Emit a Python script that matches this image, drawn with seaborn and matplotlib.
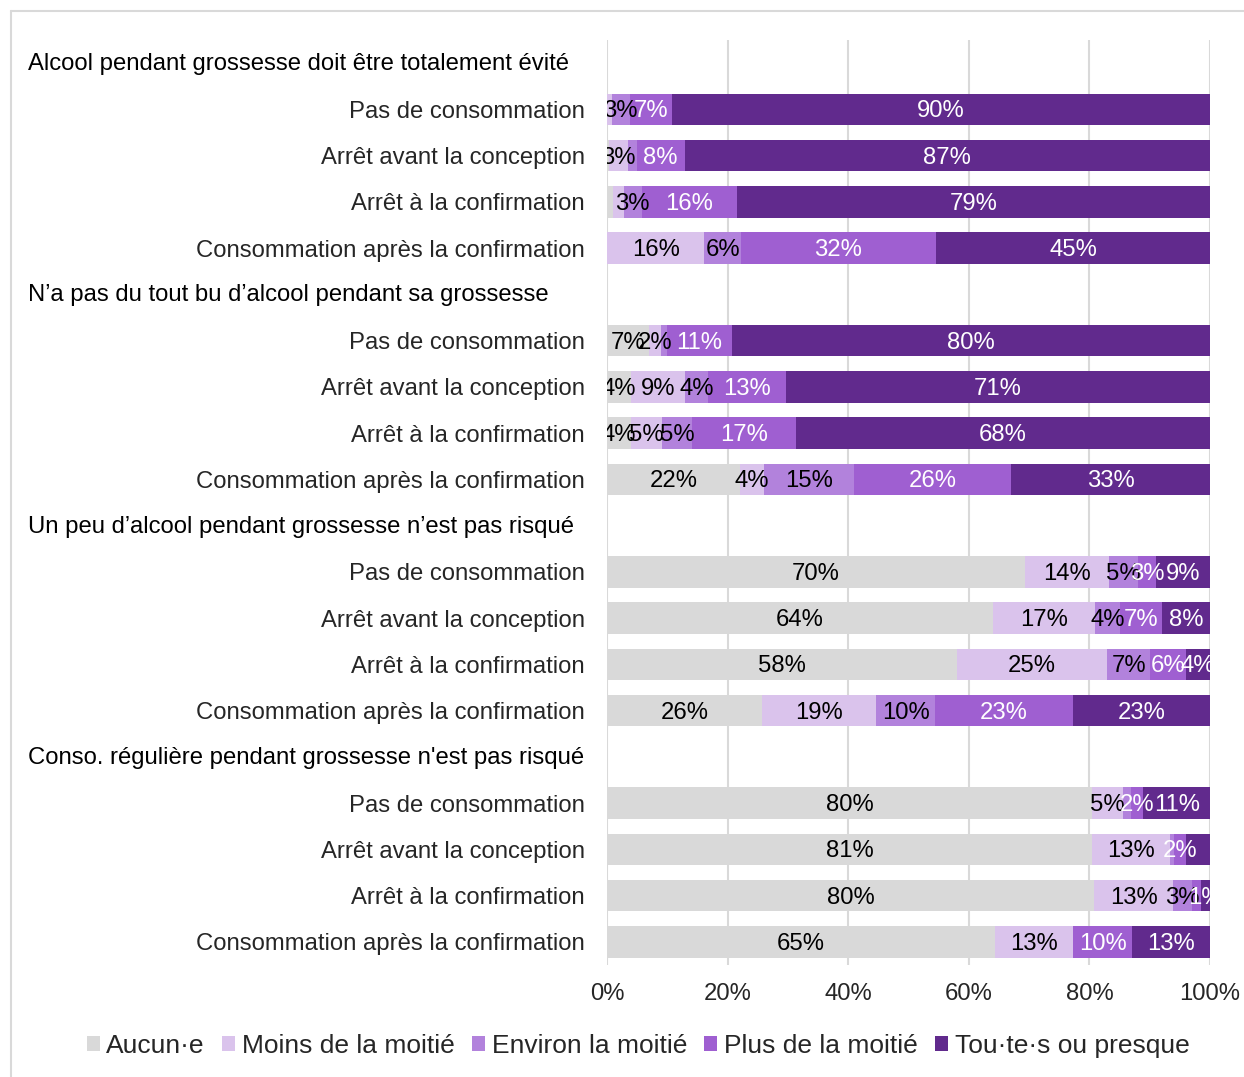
import numpy as np
import pandas as pd
import seaborn as sns
import matplotlib.pyplot as plt
from matplotlib.patches import Patch
from matplotlib.lines import Line2D
from matplotlib.transforms import blended_transform_factory, ScaledTranslation

sns.set_theme(style="white")
plt.rcParams['font.family'] = ['Liberation Sans', 'DejaVu Sans']

# ---------------- data ----------------
groups = [
    "Alcool pendant grossesse doit être totalement évité",
    "N’a pas du tout bu d’alcool pendant sa grossesse",
    "Un peu d’alcool pendant grossesse n’est pas risqué",
    "Conso. régulière pendant grossesse n'est pas risqué",
]
subcats = [
    "Pas de consommation",
    "Arrêt avant la conception",
    "Arrêt à la confirmation",
    "Consommation après la confirmation",
]
series = ["Aucun·e", "Moins de la moitié", "Environ la moitié",
          "Plus de la moitié", "Tou·te·s ou presque"]

# one value per data row (4 groups x 4 sub-categories)
aucun   = [0,   0.4, 1,   0,  7, 4, 4, 22, 70, 64, 58, 26, 80, 81,  80,  65]
moins   = [0.8, 3,   1.8, 16, 2, 9, 5, 4,  14, 17, 25, 19, 5,  13,  13,  13]
environ = [3,   1.5, 3,   6,  1, 4, 5, 15, 5,  4,  7,  10, 1.4, 0.7, 3,  0]
plus    = [7,   8,   16,  32, 11, 13, 17, 26, 3, 7,  6,  23, 2,  2,   1.6, 10]
tous    = [90,  87,  79,  45, 80, 71, 68, 33, 9, 8,  4,  23, 11, 4,   1.4, 13]

# data labels removed in the original chart: (data row, series index)
hidden_labels = {(0, 0), (0, 1), (1, 0), (1, 2), (2, 0), (2, 1), (3, 0),
                 (4, 2), (12, 2), (13, 2), (13, 4), (14, 3), (15, 2)}

colors = ["#d9d9d9", "#dac3ec", "#b282dc", "#9f5fd1", "#612a8d"]
text_colors = ["black", "black", "black", "white", "white"]

FS = 17.2

# ---------------- table ----------------
order, labels, is_header = [], [], []
rows = []
k = 0
for g, gname in enumerate(groups):
    order.append(f"H{g}"); labels.append(""); is_header.append(gname)
    for s, sname in enumerate(subcats):
        key = f"G{g}R{s}"
        order.append(key); labels.append(sname); is_header.append(None)
        vals = [aucun[k], moins[k], environ[k], plus[k], tous[k]]
        rows.append([key, k] + vals)
        k += 1
df = pd.DataFrame(rows, columns=["key", "idx"] + series)
tot = df[series].sum(axis=1)
pct = df[series].div(tot, axis=0) * 100
cum = pct.cumsum(axis=1)
for i, s in enumerate(series):
    df[f"cum{i}"] = cum[s]
    df[f"start{i}"] = cum[s] - pct[s]
    df[f"pct{i}"] = pct[s]

# ---------------- figure ----------------
W, H = 1244, 1077
fig = plt.figure(figsize=(W / 100, H / 100), dpi=100)
ax = fig.add_axes([607 / W, 1 - 965 / H, (1210 - 607) / W, (965 - 40) / H])

for i in reversed(range(len(series))):
    sns.barplot(data=df, y="key", x=f"cum{i}", order=order, orient="h",
                color=colors[i], saturation=1, width=0.68, errorbar=None,
                linewidth=0, ax=ax)

down = ScaledTranslation(0, -2 / 100, fig.dpi_scale_trans)
pos = {key: j for j, key in enumerate(order)}
for _, r in df.iterrows():
    y = pos[r["key"]]
    for i, s in enumerate(series):
        v = r[s]
        if v == 0 or (int(r["idx"]), i) in hidden_labels:
            continue
        ax.text(r[f"start{i}"] + r[f"pct{i}"] / 2, y, f"{v:.0f}%",
                ha="center", va="center", color=text_colors[i],
                fontsize=FS, clip_on=True, zorder=5,
                transform=ax.transData + down)

ax.set_xlim(0, 100)
ax.set_ylim(len(order) - 0.5, -0.5)
ax.set_xticks(np.arange(0, 101, 20))
ax.set_xticklabels([f"{t}%" for t in range(0, 101, 20)], fontsize=FS)
ax.set_yticks(range(len(order)))
ax.set_yticklabels(labels, fontsize=FS)
ax.tick_params(axis="y", length=0, pad=16)
ax.tick_params(axis="x", length=0, pad=13)
ax.set_xlabel(""); ax.set_ylabel("")
for sp in ax.spines.values():
    sp.set_visible(False)
ax.xaxis.grid(True, color="#d9d9d9", linewidth=1.5)
ax.set_axisbelow(True)

trans = blended_transform_factory(fig.transFigure, ax.transData) + \
    ScaledTranslation(0, -1 / 100, fig.dpi_scale_trans)
for j, hname in enumerate(is_header):
    if hname:
        ax.text(28 / W, j, hname, ha="left", va="center", fontsize=FS,
                transform=trans, color="black")

handles = [Patch(facecolor=c, edgecolor="none", label=s) for c, s in zip(colors, series)]
fig.legend(handles=handles, loc="center", bbox_to_anchor=(638 / W, 1 - 1046 / H),
           ncol=5, frameon=False, fontsize=19, handlelength=0.5, handleheight=0.5,
           handletextpad=0.25, columnspacing=0.65, borderpad=0, borderaxespad=0)

# outer frame (cropped chart border)
fig.add_artist(Line2D([10.5 / W, 10.5 / W], [0, 1 - 10.5 / H], transform=fig.transFigure,
                      color="#d9d9d9", lw=1.5))
fig.add_artist(Line2D([10.5 / W, 1], [1 - 10.5 / H, 1 - 10.5 / H], transform=fig.transFigure,
                      color="#d9d9d9", lw=1.5))

fig.savefig("out.png", dpi=100)
